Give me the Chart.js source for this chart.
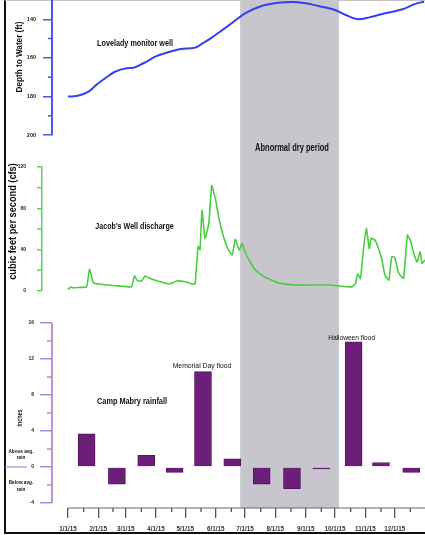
<!DOCTYPE html>
<html><head><meta charset="utf-8">
<script src="https://cdn.jsdelivr.net/npm/chart.js@4.4.1/dist/chart.umd.min.js"></script>
<style>
html,body{margin:0;padding:0;background:#fff;}
#page{position:relative;width:425px;height:535px;overflow:hidden;background:#fff;}
#frame{position:absolute;left:4px;top:0;width:421px;height:534px;box-sizing:border-box;border-left:2px solid #111;border-bottom:2px solid #111;border-top:1px solid #c4c4c4;}
canvas{position:absolute;left:0;}
</style></head><body>
<div id="page"><div id="frame"></div>
<canvas id="c1" width="425" height="140" style="top:0;width:425px;height:140px"></canvas>
<canvas id="c2" width="425" height="170" style="top:140px;width:425px;height:170px"></canvas>
<canvas id="c3" width="425" height="225" style="top:310px;width:425px;height:225px"></canvas>
</div>
<script>
// ---------------- data ----------------
const monthLabels = ['1/1/15','2/1/15','3/1/15','4/1/15','5/1/15','6/1/15','7/1/15','8/1/15','9/1/15','10/1/15','11/1/15','12/1/15'];
const monthStartDays = [0,31,59,90,120,151,181,212,243,273,304,334];
const midMonthDays = [16,46,75,106,136,167,197,228,259,289,320,350];
const yearEndDay = 365;

const dryStartDay = 176;
const dryEndDay = 277;

// Lovelady monitor well, depth to water (ft)
const depthDays = [0,9,21,29,38,48,60,67,77,91,104,116,130,138,147,158,168,181,198,215,229,243,256,273,284,297,308,324,342,355,364];
const depthFt   = [180.1,179.8,177.5,174,170.6,167.2,165.4,165.1,162.8,159,156.8,155.4,154.7,152.4,149.5,145.5,141.8,136.9,133.1,131.4,131,131.7,133.1,135.2,137.8,140,139,136.9,134.8,132,130.9];
const depthTicks = [140,160,180,200];
const depthMinorTicks = [150,170,190];

// Jacob's Well discharge (cfs)
const flowDays = [0,3,5,12,19,22,26,33,50,63,65,68,71,75,79,84,94,104,111,121,128,130,133,135,137,140,144,147,151,154,159,164,168,171,175,178,181,185,192,202,215,232,250,267,290,294,296,299,302,305,308,310,314,318,321,324,328,331,334,338,343,347,350,354,357,360,362,365];
const flowCfs  = [1.5,4,3,3.5,4,21,8,6.5,5,4,4,14.5,10,9.7,14.5,12,9,6.8,9.7,8.7,6.5,7,43,40,78,51,65.5,102,88,72,52.5,39.7,35,50,39.7,46,38,30,20,13,8,5.8,5.8,5.8,4,7.4,16.5,12,39.7,60.7,41,51,49,39.7,30,15.5,10.6,33,32.6,17.7,12.3,54,49,35,28,38,26.8,30];
const flowTicks = [0,40,80,120];
const flowMinorTicks = [20,60,100];

// Camp Mabry rainfall departure (inches)
const rainDays   = [19,50,80,109,138,168,198,229,259,292,320,351];
const rainInches = [3.7,-1.9,1.3,-0.6,10.6,0.9,-1.9,-2.4,-0.2,13.9,0.5,-0.6];
const rainTicks = [-4,0,4,8,12,16];
const rainMinorTicks = [-2,2,6,10,14];

// ---------------- layout helpers ----------------
const PAGE_W = 425, DAY0_PX = 68;
const pxPerDay = (PAGE_W - DAY0_PX) / yearEndDay;
function xMinFor(left){ return -(DAY0_PX - left) / pxPerDay; }
const FONT = "'Liberation Sans', Arial, Helvetica, sans-serif";

Chart.defaults.font.family = FONT;
Chart.defaults.animation = false;

const BLUE = '#3340f2', BLUE_AX = '#4a55f0';
const GREEN = '#47cf3c', GREEN_AX = '#63cf5f';
const PURPLE = '#6b1f78', PURPLE_AX = '#b389cf';
const BAND = '#c7c6cd';

const bandPlugin = {
  id: 'dryBand',
  beforeDatasetsDraw(chart, args, opts) {
    const x = chart.scales.x, ctx = chart.ctx;
    const x1 = x.getPixelForValue(dryStartDay), x2 = x.getPixelForValue(dryEndDay);
    const bottom = opts.toChartBottom ? chart.chartArea.bottom : chart.height;
    ctx.save(); ctx.fillStyle = BAND; ctx.fillRect(x1, 0, x2 - x1, bottom); ctx.restore();
  }
};

const axisExtras = {
  id: 'axisExtras',
  afterDatasetsDraw(chart, args, opts) {
    const ctx = chart.ctx;
    ctx.save();
    (opts.lines || []).forEach(l => {
      const s = chart.scales[l.axis];
      ctx.strokeStyle = l.color; ctx.lineWidth = l.width; ctx.beginPath();
      if (l.axis === 'y') {
        const x = chart.chartArea.left;
        ctx.moveTo(x, s.getPixelForValue(l.from)); ctx.lineTo(x, s.getPixelForValue(l.to));
      } else {
        const y = chart.chartArea.bottom;
        ctx.moveTo(s.getPixelForValue(l.from), y); ctx.lineTo(s.getPixelForValue(l.to), y);
      }
      ctx.stroke();
    });
    (opts.minor || []).forEach(m => {
      const s = chart.scales[m.axis];
      ctx.strokeStyle = m.color; ctx.lineWidth = m.width; ctx.beginPath();
      m.values.forEach(v => {
        if (m.axis === 'y') {
          const x = chart.chartArea.left, y = s.getPixelForValue(v);
          ctx.moveTo(x - m.len, y); ctx.lineTo(x, y);
        } else {
          const y = chart.chartArea.bottom, x = s.getPixelForValue(v);
          ctx.moveTo(x, y); ctx.lineTo(x, y + m.len);
        }
      });
      ctx.stroke();
    });
    (opts.hlines || []).forEach(h => {
      const y = chart.scales.y.getPixelForValue(h.value);
      ctx.strokeStyle = h.color; ctx.lineWidth = h.width; ctx.beginPath();
      ctx.moveTo(h.x1, y); ctx.lineTo(h.x2, y); ctx.stroke();
    });
    ctx.restore();
  }
};

const textPlugin = {
  id: 'texts',
  afterDatasetsDraw(chart, args, opts) {
    const ctx = chart.ctx;
    (opts.items || []).forEach(it => {
      let x = it.x, y = it.y;
      if (it.barIndex !== undefined) {
        const el = chart.getDatasetMeta(0).data[it.barIndex];
        x = el.x + (it.dx || 0); y = el.y + (it.dy || 0);
      }
      ctx.save();
      ctx.translate(x, y);
      if (it.rotate) ctx.rotate(it.rotate);
      ctx.scale(it.sx || 1, 1);
      ctx.font = (it.weight || 'bold') + ' ' + it.size + 'px ' + FONT;
      ctx.fillStyle = it.color || '#111';
      ctx.textAlign = 'center'; ctx.textBaseline = 'middle';
      ctx.fillText(it.text, 0, 0);
      ctx.restore();
    });
  }
};

function yFit(width){ return s => { s.width = width; s.paddingTop = 0; s.paddingBottom = 0; }; }
function setTicks(list){ return s => { s.ticks = list.map(v => ({ value: v })); }; }
const common = { responsive: false, animation: false, events: [] };

// ---------------- chart 1: Lovelady well ----------------
new Chart(document.getElementById('c1'), {
  type: 'line',
  data: { datasets: [{
    data: depthDays.map((d, i) => ({ x: d, y: depthFt[i] })),
    borderColor: BLUE, borderWidth: 2, pointRadius: 0, fill: false,
    tension: 0.4, cubicInterpolationMode: 'monotone'
  }]},
  options: Object.assign({}, common, {
    layout: { padding: { top: 0, bottom: 5, left: 0, right: 0 } },
    scales: {
      x: { type: 'linear', display: false, min: xMinFor(52), max: yearEndDay },
      y: {
        min: 130, max: 200, reverse: true,
        afterBuildTicks: setTicks(depthTicks), afterFit: yFit(52),
        ticks: { font: { size: 5.5, weight: 'bold' }, color: '#222', padding: 7 },
        grid: { drawOnChartArea: false, tickLength: 9, color: BLUE_AX, lineWidth: 1.5 },
        border: { color: BLUE_AX, width: 2 }
      }
    },
    plugins: {
      legend: { display: false }, tooltip: { enabled: false },
      axisExtras: { minor: [{ axis: 'y', values: depthMinorTicks, len: 4, color: BLUE_AX, width: 1.5 }] },
      texts: { items: [
        { text: 'Depth to Water (ft)', x: 19, y: 57, size: 9.5, sx: 0.86, rotate: -Math.PI / 2 },
        { text: 'Lovelady monitor well', x: 135, y: 43, size: 9.5, sx: 0.76 }
      ]}
    }
  }),
  plugins: [bandPlugin, axisExtras, textPlugin]
});

// ---------------- chart 2: Jacob's Well ----------------
new Chart(document.getElementById('c2'), {
  type: 'line',
  data: { datasets: [{
    data: flowDays.map((d, i) => ({ x: d, y: flowCfs[i] })),
    borderColor: GREEN, borderWidth: 1.6, pointRadius: 0, fill: false, tension: 0.15
  }]},
  options: Object.assign({}, common, {
    layout: { padding: { top: 27, bottom: 19, left: 0, right: 0 } },
    scales: {
      x: { type: 'linear', display: false, min: xMinFor(42), max: yearEndDay },
      y: {
        min: 0, max: 120,
        afterBuildTicks: setTicks(flowTicks), afterFit: yFit(42),
        ticks: { font: { size: 5, weight: 'bold' }, color: '#222', padding: 11 },
        grid: { drawOnChartArea: false, tickLength: 5, color: GREEN_AX, lineWidth: 1.5 },
        border: { color: GREEN_AX, width: 1.5 }
      }
    },
    plugins: {
      legend: { display: false }, tooltip: { enabled: false },
      axisExtras: { minor: [{ axis: 'y', values: flowMinorTicks, len: 5, color: GREEN_AX, width: 1.5 }] },
      texts: { items: [
        { text: 'Abnormal dry period', x: 292, y: 8.5, size: 10, sx: 0.75 },
        { text: 'cubic feet per second (cfs)', x: 13, y: 81.5, size: 10, sx: 0.92, rotate: -Math.PI / 2 },
        { text: "Jacob's Well discharge", x: 134.5, y: 86.5, size: 9.5, sx: 0.75 }
      ]}
    }
  }),
  plugins: [bandPlugin, axisExtras, textPlugin]
});

// ---------------- chart 3: Camp Mabry rainfall ----------------
new Chart(document.getElementById('c3'), {
  type: 'bar',
  data: { datasets: [{
    data: rainDays.map((d, i) => ({ x: d, y: rainInches[i] })),
    backgroundColor: PURPLE, borderColor: '#55155f', borderWidth: 1, barThickness: 17
  }]},
  options: Object.assign({}, common, {
    layout: { padding: { top: 13, bottom: 0, left: 0, right: 0 } },
    scales: {
      x: {
        type: 'linear', min: xMinFor(52), max: yearEndDay, offset: false,
        afterBuildTicks: setTicks(monthStartDays),
        afterFit: s => { s.height = 27; s.paddingLeft = 0; s.paddingRight = 0; },
        ticks: {
          callback: v => monthLabels[monthStartDays.indexOf(v)],
          font: { size: 6.3, weight: 'bold' }, color: '#333', padding: 7,
          maxRotation: 0, minRotation: 0, autoSkip: false
        },
        grid: { offset: false, drawOnChartArea: false, tickLength: 10, color: '#555', lineWidth: 1.3 },
        border: { display: false }
      },
      y: {
        min: -4.55, max: 16,
        afterBuildTicks: setTicks(rainTicks), afterFit: yFit(52),
        ticks: { font: { size: 5, weight: 'bold' }, color: '#222', padding: 6 },
        grid: { drawOnChartArea: false, tickLength: 12, color: PURPLE_AX, lineWidth: 1.5 },
        border: { display: false }
      }
    },
    plugins: {
      legend: { display: false }, tooltip: { enabled: false },
      dryBand: { toChartBottom: true },
      axisExtras: {
        lines: [
          { axis: 'y', from: 16, to: -4, color: PURPLE_AX, width: 1.8 },
          { axis: 'x', from: 0, to: yearEndDay, color: '#666', width: 1 }
        ],
        minor: [
          { axis: 'y', values: rainMinorTicks, len: 5, color: PURPLE_AX, width: 1.5 },
          { axis: 'x', values: midMonthDays, len: 4, color: '#555', width: 1.3 }
        ],
        hlines: [{ value: 0, x1: 5, x2: 27, color: PURPLE_AX, width: 1.2 }]
      },
      texts: { items: [
        { text: 'Inches', x: 20, y: 108, size: 7.5, sx: 0.72, rotate: -Math.PI / 2 },
        { text: 'Camp Mabry rainfall', x: 132, y: 91.7, size: 9.5, sx: 0.77 },
        { text: 'Above avg.', x: 21, y: 141.5, size: 6.2, sx: 0.76 },
        { text: 'rain', x: 21, y: 147.5, size: 6.2, sx: 0.76 },
        { text: 'Below avg.', x: 21, y: 172.3, size: 6.2, sx: 0.76 },
        { text: 'rain', x: 21, y: 179.5, size: 6.2, sx: 0.76 },
        { text: 'Memorial Day flood', barIndex: 4, dx: -1, dy: -5, size: 6.8, weight: 'normal' },
        { text: 'Halloween flood', barIndex: 9, dx: -2, dy: -4, size: 6.6, weight: 'normal' }
      ]}
    }
  }),
  plugins: [bandPlugin, axisExtras, textPlugin]
});
</script>
</body></html>
